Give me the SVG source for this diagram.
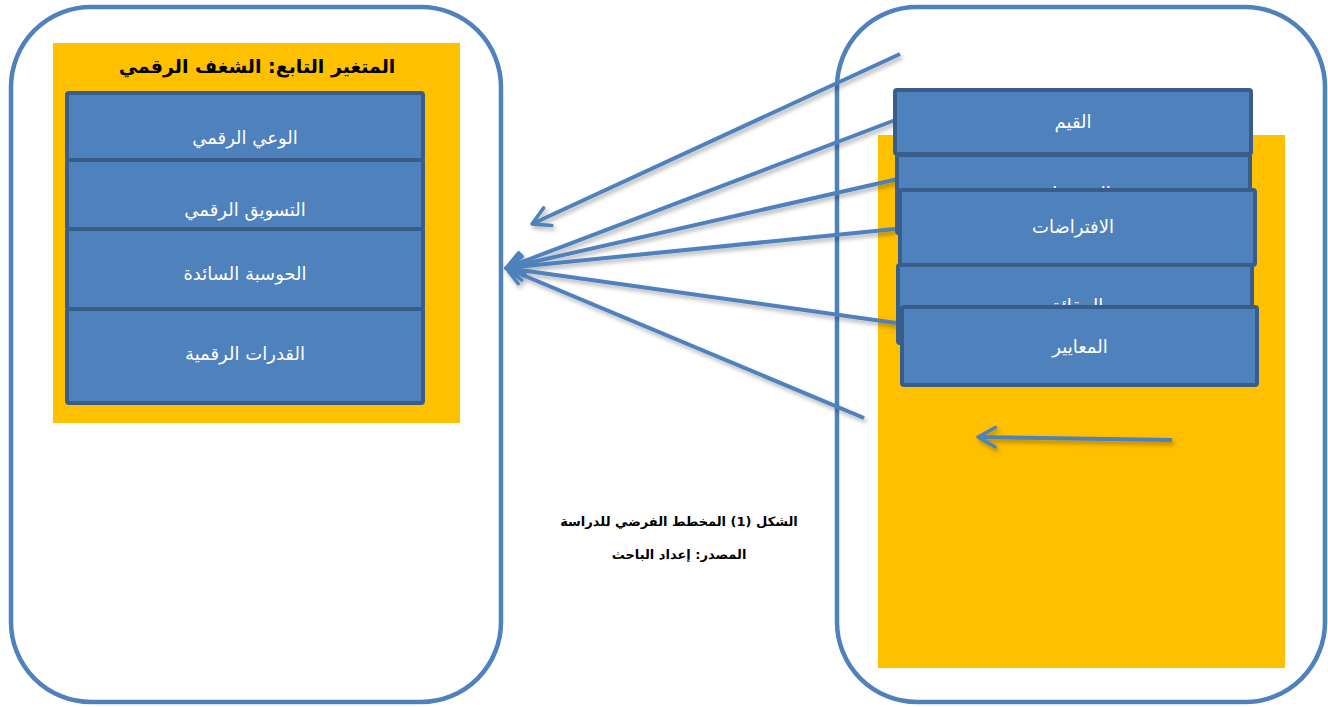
<svg xmlns="http://www.w3.org/2000/svg" width="1328" height="707" viewBox="0 0 1328 707">
  <defs>
    <style>
      .frame { fill: #FFFFFF; stroke: #4F81BD; stroke-width: 4.5; }
      .panel { fill: #FFC000; }
      .box { fill: #4F81BD; stroke: #385D8A; stroke-width: 4; }
      .lbl { fill: #FFFFFF; font-family: "DejaVu Sans", sans-serif; font-size: 18px; text-anchor: middle; direction: rtl; }
      .title { fill: #000000; font-family: "DejaVu Sans", sans-serif; font-size: 19px; font-weight: bold; text-anchor: middle; direction: rtl; }
      .cap { fill: #000000; font-family: "DejaVu Sans", sans-serif; font-size: 13px; font-weight: bold; text-anchor: middle; direction: rtl; }
      .link { fill: none; stroke: #4F81BD; stroke-width: 4; marker-end: url(#head); }
    </style>
    <marker id="head" viewBox="0 0 12 12" refX="10" refY="6" markerWidth="6.5" markerHeight="6.5" orient="auto" markerUnits="strokeWidth">
      <path d="M2,1.5 L10,6 L2,10.5" fill="none" stroke="#4F81BD" stroke-width="1.6" stroke-linecap="round" stroke-linejoin="round"/>
    </marker>
    <filter id="shadow" x="-10%" y="-10%" width="120%" height="130%">
      <feDropShadow dx="2" dy="3" stdDeviation="2" flood-color="#000000" flood-opacity="0.3"/>
    </filter>
  </defs>

  <rect width="1328" height="707" fill="#FFFFFF"/>

  <!-- outer frames -->
  <rect id="frame-left" class="frame" x="11" y="7" width="490" height="695" rx="80" ry="80"/>
  <rect id="frame-right" class="frame" x="837" y="7" width="488" height="695" rx="80" ry="80"/>

  <!-- dependent variable panel -->
  <g id="dependent">
    <rect class="panel" x="53" y="43" width="407" height="380"/>
    <text class="title" x="257" y="73">المتغير التابع: الشغف الرقمي</text>
  </g>
  <g id="dep-awareness">
    <rect class="box" x="67" y="93" width="356" height="67" rx="2"/>
    <text class="lbl" x="245" y="144">الوعي الرقمي</text>
  </g>
  <g id="dep-marketing">
    <rect class="box" x="67" y="160" width="356" height="69" rx="2"/>
    <text class="lbl" x="245" y="216">التسويق الرقمي</text>
  </g>
  <g id="dep-computing">
    <rect class="box" x="67" y="229" width="356" height="80" rx="2"/>
    <text class="lbl" x="245" y="280">الحوسبة السائدة</text>
  </g>
  <g id="dep-capabilities">
    <rect class="box" x="67" y="309" width="356" height="94" rx="2"/>
    <text class="lbl" x="245" y="360">القدرات الرقمية</text>
  </g>

  <!-- independent variable panel -->
  <g id="independent">
    <rect class="panel" x="878" y="135" width="407" height="533"/>
  </g>

  <!-- connectors -->
  <g id="connectors" filter="url(#shadow)">
    <line class="link" x1="900" y1="54" x2="532" y2="224"/>
    <line class="link" x1="898" y1="119" x2="506" y2="268"/>
    <line class="link" x1="898" y1="179" x2="506" y2="268"/>
    <line class="link" x1="895" y1="229" x2="506" y2="268"/>
    <line class="link" x1="896" y1="323" x2="506" y2="268"/>
    <line class="link" x1="864" y1="418" x2="506" y2="268"/>
    <line class="link" x1="1172" y1="440" x2="978" y2="437"/>
  </g>

  <g id="ind-values">
    <rect class="box" x="895" y="90" width="356" height="64" rx="2"/>
    <text class="lbl" x="1073" y="128">القيم</text>
  </g>
  <g id="ind-beliefs">
    <rect class="box" x="897" y="155" width="353" height="78" rx="2"/>
    <text class="lbl" x="1073" y="200">المعتقدات</text>
  </g>
  <g id="ind-assumptions">
    <rect class="box" x="900" y="190" width="355" height="75" rx="2"/>
    <text class="lbl" x="1073" y="233">الافتراضات</text>
  </g>
  <g id="ind-facts">
    <rect class="box" x="898" y="265" width="354" height="78" rx="2"/>
    <text class="lbl" x="1075" y="312">الحقائق</text>
  </g>
  <g id="ind-standards">
    <rect class="box" x="902" y="307" width="355" height="78" rx="2"/>
    <text class="lbl" x="1080" y="353">المعايير</text>
  </g>

  <!-- caption -->
  <g id="caption">
    <text class="cap" x="679" y="526">الشكل (1) المخطط الفرضي للدراسة</text>
    <text class="cap" x="679" y="559">المصدر: إعداد الباحث</text>
  </g>
</svg>
